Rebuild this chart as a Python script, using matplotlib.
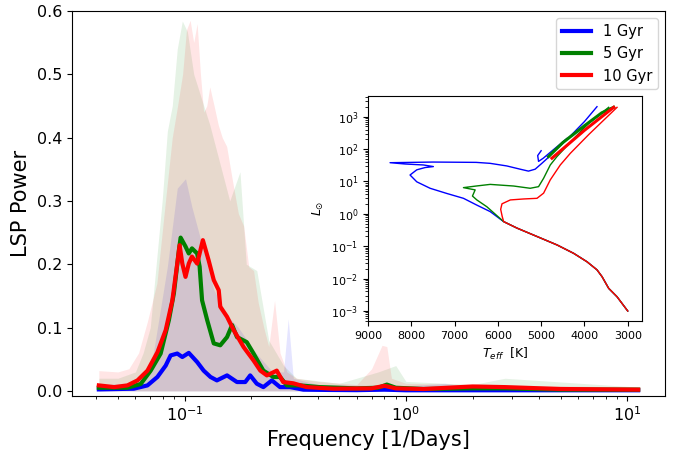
import matplotlib
matplotlib.use('Agg')
import matplotlib.pyplot as plt
import numpy as np

# ---- mean LSP curves ----
freq_1gyr = [0.041, 0.050, 0.059, 0.068, 0.0754, 0.0822, 0.0865, 0.0927, 0.0977, 0.1045,
             0.114, 0.122, 0.131, 0.140, 0.1556, 0.1725, 0.188, 0.198, 0.212, 0.227,
             0.248, 0.27, 0.30, 0.344, 0.45, 0.6, 0.8, 1.0, 2.0, 4.0, 8.0, 11.2]
power_1gyr = [0.0024, 0.003, 0.0035, 0.0087, 0.022, 0.040, 0.056, 0.059, 0.0535, 0.060,
              0.0456, 0.032, 0.022, 0.0166, 0.0245, 0.014, 0.014, 0.0245, 0.0114, 0.006,
              0.0166, 0.006, 0.006, 0.002, 0.0015, 0.0012, 0.002, 0.001, 0.001, 0.001, 0.001, 0.001]

freq_5gyr = [0.041, 0.0552, 0.0634, 0.0703, 0.078, 0.085, 0.0895, 0.0943, 0.096, 0.101,
             0.1045, 0.108, 0.114, 0.117, 0.120, 0.1265, 0.1355, 0.145, 0.1556, 0.164,
             0.1725, 0.191, 0.205, 0.227, 0.252, 0.27, 0.29, 0.332, 0.408, 0.6, 0.75,
             0.82, 0.9, 1.2, 2.0, 2.8, 5.0, 11.2]
power_5gyr = [0.005, 0.005, 0.011, 0.032, 0.059, 0.112, 0.154, 0.222, 0.242, 0.228,
              0.217, 0.225, 0.217, 0.196, 0.143, 0.112, 0.075, 0.072, 0.085, 0.104,
              0.085, 0.077, 0.059, 0.032, 0.022, 0.022, 0.0087, 0.0087, 0.006, 0.004, 0.005,
              0.010, 0.005, 0.003, 0.004, 0.004, 0.002, 0.002]

freq_10gyr = [0.041, 0.0481, 0.0552, 0.0613, 0.068, 0.0754, 0.0822, 0.0881, 0.0927, 0.095,
              0.0977, 0.101, 0.1045, 0.108, 0.114, 0.121, 0.1285, 0.1355, 0.1427, 0.145,
              0.1556, 0.1667, 0.185, 0.205, 0.22, 0.2355, 0.261, 0.279, 0.31, 0.356, 0.469,
              0.7, 0.8, 0.9, 1.2, 2.0, 2.8, 5.0, 11.2]
power_10gyr = [0.0087, 0.006, 0.0087, 0.0166, 0.032, 0.061, 0.096, 0.143, 0.201, 0.230,
               0.201, 0.180, 0.201, 0.212, 0.201, 0.238, 0.206, 0.175, 0.159, 0.133,
               0.117, 0.096, 0.069, 0.048, 0.032, 0.0245, 0.032, 0.014, 0.012, 0.006, 0.0035,
               0.004, 0.008, 0.004, 0.003, 0.007, 0.006, 0.003, 0.002]

# ---- upper envelopes of the shaded spread ----
env_freq_1gyr = [0.041, 0.06, 0.07, 0.0836, 0.0927, 0.101, 0.108, 0.118, 0.1355, 0.155,
                 0.175, 0.21, 0.25, 0.28, 0.294, 0.31, 0.4, 1.0, 1.5, 2.0, 11.2]
env_1gyr = [0.010, 0.012, 0.030, 0.196, 0.320, 0.335, 0.290, 0.240, 0.160, 0.120,
            0.100, 0.060, 0.030, 0.030, 0.114, 0.020, 0.010, 0.008, 0.012, 0.006, 0.004]

env_freq_5gyr = [0.041, 0.05, 0.06, 0.065, 0.07, 0.0794, 0.0836, 0.088, 0.0927, 0.0977,
                 0.103, 0.11, 0.13, 0.16, 0.178, 0.19, 0.212, 0.24, 0.28, 0.32, 0.5,
                 0.75, 0.9, 1.0, 2.0, 2.8, 11.2]
env_5gyr = [0.020, 0.020, 0.030, 0.060, 0.100, 0.304, 0.410, 0.450, 0.540, 0.584,
            0.567, 0.50, 0.42, 0.30, 0.346, 0.20, 0.19, 0.08, 0.04, 0.02, 0.012,
            0.03, 0.04, 0.015, 0.01, 0.02, 0.006]

env_freq_10gyr = [0.041, 0.05, 0.056, 0.062, 0.068, 0.075, 0.082, 0.088, 0.093, 0.098,
                  0.102, 0.106, 0.110, 0.114, 0.118, 0.122, 0.126, 0.130, 0.136, 0.142,
                  0.148, 0.155, 0.165, 0.175, 0.185, 0.195, 0.205, 0.215, 0.228, 0.240,
                  0.255, 0.27, 0.29, 0.32, 0.40, 0.60, 0.70, 0.78, 0.82, 0.86, 1.0, 2.0, 11.2]
env_10gyr = [0.032, 0.030, 0.035, 0.060, 0.110, 0.170, 0.300, 0.400, 0.450, 0.500,
             0.570, 0.585, 0.550, 0.580, 0.500, 0.440, 0.450, 0.480, 0.450, 0.420,
             0.400, 0.386, 0.330, 0.280, 0.260, 0.196, 0.190, 0.140, 0.100, 0.070,
             0.143, 0.060, 0.030, 0.020, 0.015, 0.010, 0.035, 0.072, 0.070, 0.020, 0.012, 0.010, 0.006]

# ---- inset isochrones: Teff [K], log10 L ----
shared_teff = [3000, 3247, 3440, 3593, 3709, 3940, 4248, 4633, 5095, 5558, 5866]
shared_logl = [-3.0, -2.56, -2.30, -1.94, -1.73, -1.48, -1.22, -0.96, -0.70, -0.44, -0.24]

iso1_teff = [6178, 6486, 6795, 7180, 7566, 7874, 8029, 7874, 7682, 7490, 7721, 8144, 8491,
             7500, 6500, 6178, 5794, 5486, 5293, 5138, 4984, 4868, 4751, 4400, 4000, 3710]
iso1_logl = [0.07, 0.27, 0.48, 0.63, 0.79, 0.99, 1.20, 1.36, 1.43, 1.46, 1.51, 1.54, 1.58,
             1.60, 1.59, 1.56, 1.48, 1.38, 1.32, 1.38, 1.56, 1.70, 1.87, 2.30, 2.85, 3.31]
agb1_teff = [5000, 5080, 5060, 4950, 4700, 4402]
agb1_logl = [1.95, 1.80, 1.62, 1.72, 2.00, 2.33]

iso5_teff = [6255, 6486, 6587, 6525, 6795, 6500, 6178, 5638, 5253, 5060, 4943, 4789, 4634,
             4300, 3900, 3440]
iso5_logl = [0.22, 0.43, 0.55, 0.74, 0.81, 0.86, 0.91, 0.86, 0.79, 0.84, 1.10, 1.51, 1.77,
             2.25, 2.80, 3.29]
agb5_teff = [4829, 4500, 4000, 3600, 3325]
agb5_logl = [1.77, 2.20, 2.72, 3.12, 3.29]

iso10_teff = [5900, 5935, 5905, 5712, 5404, 5096, 4943, 4789, 4558, 4326, 3900, 3550, 3247]
iso10_logl = [-0.08, 0.14, 0.31, 0.43, 0.46, 0.48, 0.64, 1.05, 1.51, 1.87, 2.45, 2.90, 3.29]
agb10_teff = [4751, 4400, 4000, 3600, 3325]
agb10_logl = [1.72, 2.12, 2.58, 3.00, 3.29]

labels = ['1 Gyr', '5 Gyr', '10 Gyr']
colors = ['blue', 'green', 'red']

fig = plt.figure(figsize=(6.78, 4.51), dpi=100)
ax = fig.add_axes([0.106, 0.122, 0.875, 0.854])

envs = [(env_freq_1gyr, env_1gyr), (env_freq_5gyr, env_5gyr), (env_freq_10gyr, env_10gyr)]
means = [(freq_1gyr, power_1gyr), (freq_5gyr, power_5gyr), (freq_10gyr, power_10gyr)]

for (ef, ev), c in zip(envs, colors):
    ax.fill_between(ef, 0, ev, color=c, alpha=0.1, linewidth=0)
for (f, p), c, lab in zip(means, colors, labels):
    ax.plot(f, p, color=c, lw=3, label=lab)

ax.set_xscale('log')
ax.set_ylim(-0.008, 0.6)
ax.set_xlabel('Frequency [1/Days]', fontsize=15)
ax.set_ylabel('LSP Power', fontsize=15)
ax.tick_params(labelsize=11.5)
ax.legend(loc='upper right', fontsize=10.5)

# inset HR diagram
ins = fig.add_axes([0.5428, 0.2882, 0.4041, 0.4989])
tracks = [(iso1_teff, iso1_logl, agb1_teff, agb1_logl),
          (iso5_teff, iso5_logl, agb5_teff, agb5_logl),
          (iso10_teff, iso10_logl, agb10_teff, agb10_logl)]
for (t, l, at, al), c in zip(tracks, colors):
    ins.plot(shared_teff + t, 10 ** np.array(shared_logl + l), color=c, lw=1)
    ins.plot(at, 10 ** np.array(al), color=c, lw=2.2 if c != 'blue' else 1)

ins.set_yscale('log')
ins.set_xlim(9000, 2670)
ins.set_ylim(4.9e-4, 4360)
ins.set_xlabel(r'$T_{eff}$  [K]', fontsize=9)
ins.set_ylabel(r'$L_{\odot}$', fontsize=9)
ins.tick_params(labelsize=8)

fig.savefig('out.png', dpi=100)
